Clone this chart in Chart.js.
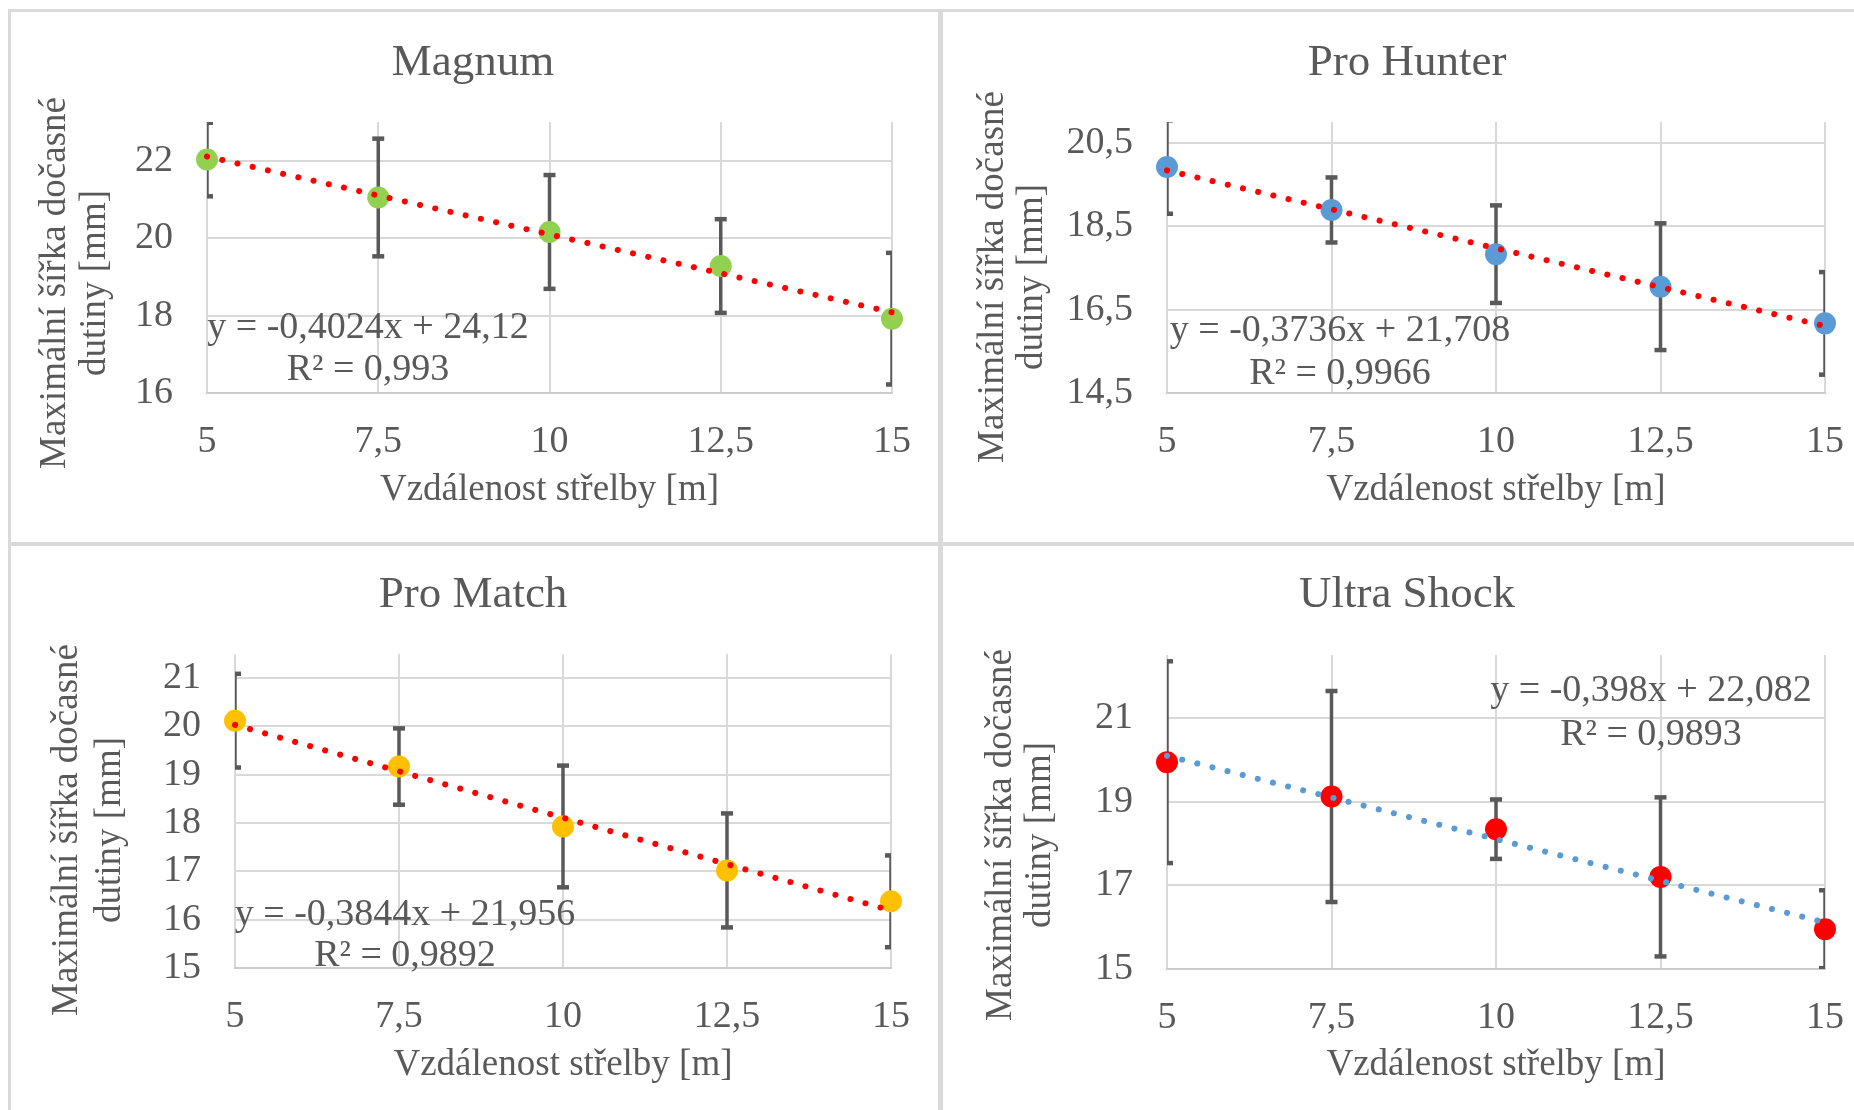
<!DOCTYPE html>
<html>
<head>
<meta charset="utf-8">
<script src="https://cdn.jsdelivr.net/npm/chart.js@4.4.1/dist/chart.umd.min.js"></script>
<style>
    body { margin: 0; background: #fff; }
    #page { position: relative; width: 1854px; height: 1110px; overflow: hidden; background: #fff; }
    .box { position: absolute; }
    .rule { position: absolute; background: #dadada; }
</style>
</head>
<body>
<div id="page">
    <div class="box" style="left:11px;top:12px;width:927px;height:530px;"><canvas id="chartMagnum"></canvas></div>
    <div class="box" style="left:943px;top:12px;width:911px;height:530px;"><canvas id="chartProHunter"></canvas></div>
    <div class="box" style="left:11px;top:546px;width:927px;height:564px;"><canvas id="chartProMatch"></canvas></div>
    <div class="box" style="left:943px;top:546px;width:911px;height:564px;"><canvas id="chartUltraShock"></canvas></div>
    <div class="rule" style="left:8px;top:9px;width:1846px;height:3px;"></div>
    <div class="rule" style="left:8px;top:9px;width:3px;height:1101px;"></div>
    <div class="rule" style="left:938px;top:9px;width:5px;height:1101px;"></div>
    <div class="rule" style="left:8px;top:542px;width:1846px;height:4px;"></div>
</div>
<script>
// vzdálenost střelby [m]
const distances = [5, 7.5, 10, 12.5, 15];
const xTickValues = [5, 7.5, 10, 12.5, 15];

// průměry a směrodatné odchylky
const magnumMeans = [22.03, 21.05, 20.16, 19.28, 17.92];
const magnumErrors = [0.95, 1.52, 1.47, 1.21, 1.70];
const proHunterMeans = [19.92, 18.89, 17.83, 17.05, 16.17];
const proHunterErrors = [1.12, 0.78, 1.17, 1.52, 1.23];
const proMatchMeans = [20.12, 19.17, 17.93, 17.02, 16.38];
const proMatchErrors = [0.97, 0.79, 1.26, 1.18, 0.95];
const ultraShockMeans = [19.94, 19.12, 18.34, 17.20, 15.95];
const ultraShockErrors = [2.41, 2.52, 0.71, 1.90, 0.93];

const seriesNames = ['Magnum', 'Pro Hunter', 'Pro Match', 'Ultra Shock'];
const trendSlopes = [-0.4024, -0.3736, -0.3844, -0.398];
const trendIntercepts = [24.12, 21.708, 21.956, 22.082];
const equationTexts = [
    ['y = -0,4024x + 24,12', 'R² = 0,993'],
    ['y = -0,3736x + 21,708', 'R² = 0,9966'],
    ['y = -0,3844x + 21,956', 'R² = 0,9892'],
    ['y = -0,398x + 22,082', 'R² = 0,9893'],
];
const yMins = [16, 14.5, 15, 15];
const yMaxs = [23, 21, 21.5, 22.5];
const yTickValues = [
    [16, 18, 20, 22],
    [14.5, 16.5, 18.5, 20.5],
    [15, 16, 17, 18, 19, 20, 21],
    [15, 17, 19, 21],
];
const xAxisTitle = 'Vzdálenost střelby [m]';
const yAxisTitle = ['Maximální šířka dočasné', 'dutiny [mm]'];

const allMeans = [magnumMeans, proHunterMeans, proMatchMeans, ultraShockMeans];
const allErrors = [magnumErrors, proHunterErrors, proMatchErrors, ultraShockErrors];

// vzhled
const markerColors = ['#92d050', '#5b9bd5', '#ffc000', '#ff0000'];
const trendColors = ['#ff0000', '#ff0000', '#ff0000', '#5b9bd5'];
const errorColor = '#595959';
const textColor = '#595959';
const gridColor = '#d9d9d9';
const fontFamily = "'Liberation Serif', 'Times New Roman', serif";

// rozložení jednotlivých panelů (px v rámci canvasu)
const panels = [
    { id: 'chartMagnum', padR: 46, padT: 110, yWidth: 196, xHeight: 149, xTitlePad: 30, titleAt: [462, 51], yTitleAt: [44, 84, 271], eqAt: [357, 316, 358] },
    { id: 'chartProHunter', padR: 29, padT: 110, yWidth: 224, xHeight: 149, xTitlePad: 30, titleAt: [464, 51], yTitleAt: [50, 89, 265], eqAt: [397, 319, 362] },
    { id: 'chartProMatch', padR: 47, padT: 108, yWidth: 224, xHeight: 142, xTitlePad: 23, titleAt: [462, 49], yTitleAt: [56, 99, 284], eqAt: [394, 369, 410] },
    { id: 'chartUltraShock', padR: 29, padT: 109, yWidth: 224, xHeight: 141, xTitlePad: 23, titleAt: [464, 49], yTitleAt: [58, 97, 289], eqAt: [708, 145, 189] },
];

// titulek, popisek osy y a rovnice regrese
const panelText = {
    id: 'panelText',
    afterDraw(chart, args, opts) {
        const ctx = chart.ctx;
        ctx.save();
        ctx.fillStyle = textColor;
        ctx.textAlign = 'center';
        ctx.textBaseline = 'middle';

        ctx.font = `45px ${fontFamily}`;
        ctx.fillText(opts.title, opts.titleAt[0], opts.titleAt[1]);

        ctx.font = `37px ${fontFamily}`;
        for (let i = 0; i < yAxisTitle.length; i++) {
            ctx.save();
            ctx.translate(opts.yTitleAt[i], opts.yTitleAt[2]);
            ctx.rotate(-Math.PI / 2);
            ctx.fillText(yAxisTitle[i], 0, 0);
            ctx.restore();
        }

        ctx.font = `38px ${fontFamily}`;
        ctx.fillText(opts.equation[0], opts.eqAt[0], opts.eqAt[1]);
        ctx.fillText(opts.equation[1], opts.eqAt[0], opts.eqAt[2]);
        ctx.restore();
    }
};

function formatNumber(v) {
    return String(v).replace('.', ',');
}

function buildChart(k) {
    const p = panels[k];
    const means = allMeans[k];
    const errors = allErrors[k];

    const datasets = [];

    // spojnice trendu (tečkovaná)
    datasets.push({
        type: 'line',
        order: 0,
        showLine: true,
        data: [distances[0], distances[distances.length - 1]].map(x => ({ x: x, y: trendSlopes[k] * x + trendIntercepts[k] })),
        borderColor: trendColors[k],
        borderWidth: 6,
        borderDash: [0.1, 15.5],
        borderCapStyle: 'round',
        pointRadius: 0,
        clip: false,
    });

    // body
    datasets.push({
        type: 'scatter',
        order: 1,
        data: distances.map((x, i) => ({ x: x, y: means[i] })),
        backgroundColor: markerColors[k],
        borderColor: markerColors[k],
        pointRadius: 11,
        pointBorderWidth: 0,
        clip: false,
    });

    // chybové úsečky
    distances.forEach((x, i) => {
        datasets.push({
            type: 'line',
            order: 2,
            showLine: true,
            data: [{ x: x, y: means[i] - errors[i] }, { x: x, y: means[i] + errors[i] }],
            borderColor: errorColor,
            borderWidth: 3.5,
            pointStyle: 'line',
            pointRadius: 6,
            pointBorderWidth: 4.5,
            pointBorderColor: errorColor,
            pointBackgroundColor: errorColor,
            clip: 0,
        });
    });

    return new Chart(document.getElementById(p.id), {
        type: 'scatter',
        data: { datasets: datasets },
        plugins: [panelText],
        options: {
            responsive: true,
            maintainAspectRatio: false,
            animation: false,
            events: [],
            layout: { padding: { left: 0, top: p.padT, right: p.padR, bottom: 0 } },
            plugins: {
                legend: { display: false },
                tooltip: { enabled: false },
                panelText: {
                    title: seriesNames[k],
                    titleAt: p.titleAt,
                    yTitleAt: p.yTitleAt,
                    equation: equationTexts[k],
                    eqAt: p.eqAt,
                },
            },
            scales: {
                x: {
                    type: 'linear',
                    min: distances[0],
                    max: distances[distances.length - 1],
                    afterBuildTicks: s => { s.ticks = xTickValues.map(v => ({ value: v })); },
                    afterFit: s => { s.height = p.xHeight; s.paddingLeft = 0; s.paddingRight = 0; },
                    grid: { color: gridColor, lineWidth: 2, drawTicks: false },
                    border: { display: true, color: '#cccccc', width: 2 },
                    ticks: {
                        padding: 26,
                        color: textColor,
                        font: { family: fontFamily, size: 38 },
                        callback: v => formatNumber(v),
                    },
                    title: {
                        display: true,
                        text: xAxisTitle,
                        color: textColor,
                        font: { family: fontFamily, size: 37 },
                        padding: { top: 0, bottom: p.xTitlePad },
                    },
                },
                y: {
                    type: 'linear',
                    min: yMins[k],
                    max: yMaxs[k],
                    afterBuildTicks: s => { s.ticks = yTickValues[k].map(v => ({ value: v })); },
                    afterFit: s => { s.width = p.yWidth; s.paddingTop = 0; s.paddingBottom = 0; },
                    grid: { color: gridColor, lineWidth: 2, drawTicks: false },
                    border: { display: false },
                    ticks: {
                        padding: 34,
                        color: textColor,
                        font: { family: fontFamily, size: 38 },
                        callback: v => formatNumber(v),
                    },
                },
            },
        },
    });
}

for (let k = 0; k < panels.length; k++) {
    buildChart(k);
}
</script>
</body>
</html>
